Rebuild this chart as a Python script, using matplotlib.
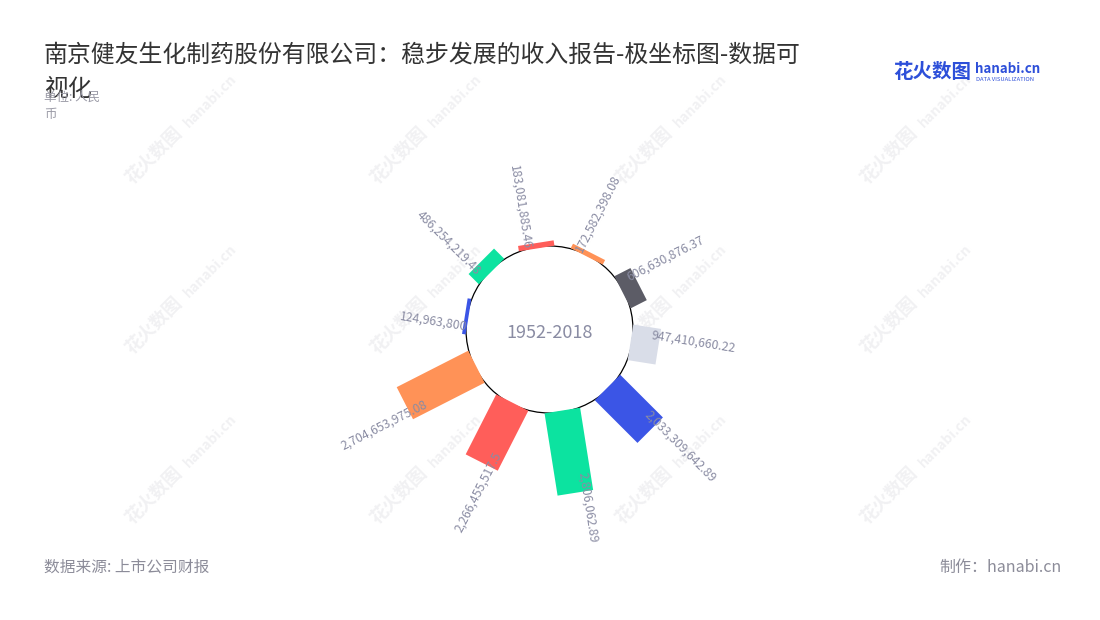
import numpy as np
import matplotlib
matplotlib.use("Agg")
import matplotlib.pyplot as plt
from matplotlib.patches import Circle
from matplotlib.transforms import Affine2D

plt.rcParams['font.family'] = ['Noto Sans CJK SC', 'DejaVu Sans']

# revenue per period, chronological order (yuan)
revenue = [124963800, 486254219.48, 183081885.46, 172582398.08, 606630876.37,
           947410660.22, 2033309642.89, 2806062890, 2266455517.5, 2704653975.08]
value_labels = ["124,963,800", "486,254,219.48", "183,081,885.46", "172,582,398.08",
                "606,630,876.37", "947,410,660.22", "2,033,309,642.89", "2,806,062.89",
                "2,266,455,517.5", "2,704,653,975.08"]
palette = ['#3b55e6', '#0ce3a0', '#ff5e5a', '#ff9257', '#5c5c66', '#d9dde8']

title_1 = "南京健友生化制药股份有限公司：稳步发展的收入报告-极坐标图-数据可"
title_2 = "视化"
unit = "单位: 人民\n币"
center_txt = "1952-2018"
source = "数据来源: 上市公司财报"
maker = "制作：hanabi.cn"

W, H = 1100, 620
cx, cy = 549.5, 329.5      # centre of the ring, pixels from top-left
r0 = 82                    # inner edge of bars
bar_w = 36                 # bar width, px
px_per_yuan = 2.97e-8
start, step = 279, 36      # clockwise from top, degrees

fig = plt.figure(figsize=(W / 100, H / 100), dpi=100)
fig.patch.set_facecolor('white')
ax = fig.add_axes([0, 0, 1, 1])
ax.set_xlim(-cx, W - cx)
ax.set_ylim(-(H - cy), cy)
ax.set_autoscale_on(False)
ax.axis('off')

# watermark grid
for gx in [132, 377, 622, 867]:
    for gy in [185, 355, 525]:
        ax.text(gx - cx, cy - gy, "花火数图", rotation=45, rotation_mode='anchor',
                ha='left', va='baseline', fontsize=13, fontweight='bold',
                color='#f1f1f3', zorder=0)
        ax.text(gx - cx + 57, cy - gy + 57, "hanabi.cn", rotation=45, rotation_mode='anchor',
                ha='left', va='baseline', fontsize=10, fontweight='bold',
                color='#f1f1f3', zorder=0)

ax.add_patch(Circle((0, 0), 83.5, facecolor='white', edgecolor='black', lw=0.9, zorder=2))
ax.text(0, -4, center_txt, ha='center', va='center', fontsize=13, color='#8a8ca3', zorder=5)

lab_color = '#8a8ca3'
for i, (v, lab) in enumerate(zip(revenue, value_labels)):
    ang = start + step * i
    c = palette[i % len(palette)]
    L = v * px_per_yuan
    tr = Affine2D().rotate_deg(-ang) + ax.transData
    ax.bar(0, L, width=bar_w, bottom=r0, color=c, transform=tr, zorder=3, linewidth=0)

    # label along the bar, slightly to its counter-clockwise side
    r_lab = r0 + L - 0.2 * L - 3
    t = np.deg2rad(ang)
    px, py = -10, r_lab
    x = px * np.cos(t) + py * np.sin(t)
    y = -px * np.sin(t) + py * np.cos(t)
    phi = 90 - ang
    a = ang % 360
    if 0 < a < 180:
        rot, ha = phi, 'left'
    else:
        rot, ha = phi + 180, 'right'
    ax.text(x, y, lab, rotation=rot, rotation_mode='anchor', ha=ha, va='center',
            fontsize=8.8, color=lab_color, zorder=4)

# titles and notes
fig.text(44 / W, 1 - 55 / H, title_1, fontsize=17.2, color='#333333', va='center', ha='left')
fig.text(44 / W, 1 - 89 / H, title_2, fontsize=17.2, color='#333333', va='center', ha='left')
fig.text(44 / W, 1 - 106 / H, unit, fontsize=9, color='#9a9aa6', va='center', ha='left',
         linespacing=1.35)
fig.text(44 / W, 1 - 567 / H, source, fontsize=11.3, color='#8c8c99', va='center', ha='left')
fig.text(1062 / W, 1 - 567 / H, maker, fontsize=11.5, color='#8c8c99', va='center', ha='right')

# logo
fig.text(893 / W, 1 - 72 / H, "花火数图", fontsize=14, fontweight='bold', color='#2d4fd9',
         va='center', ha='left')
fig.text(975 / W, 1 - 69 / H, "hanabi.cn", fontsize=9.6, fontweight='bold', color='#2d4fd9',
         va='center', ha='left')
fig.text(976 / W, 1 - 79.5 / H, "DATA VISUALIZATION", fontsize=4.2, color='#2d4fd9',
         va='center', ha='left')

fig.savefig("out.png", dpi=100)
